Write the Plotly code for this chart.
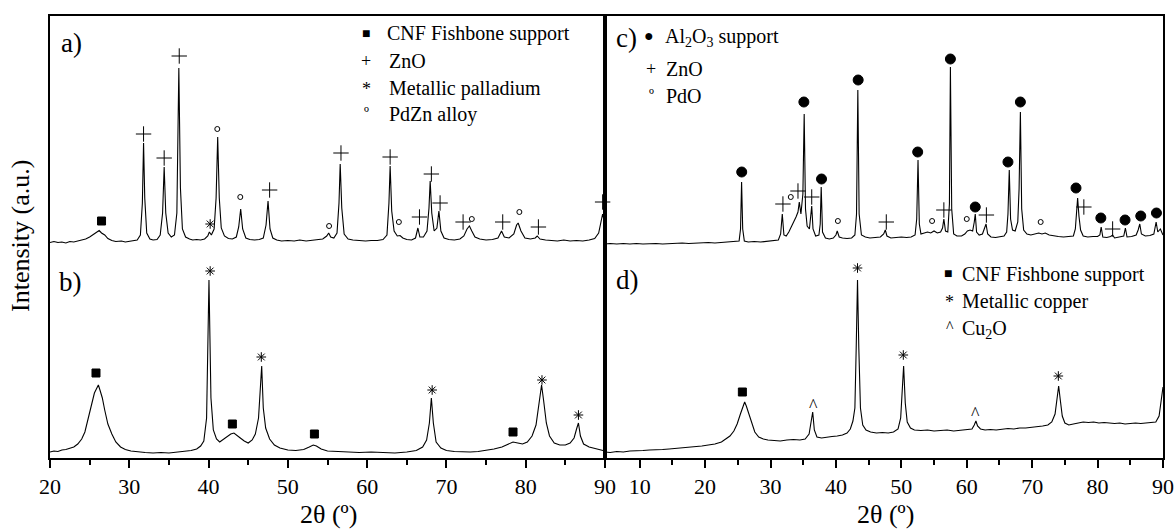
import plotly.graph_objects as go

FONT = "Liberation Serif, Times New Roman, serif"

# ---------------- data ----------------
# a) Pd/ZnO on CNF fishbone: (2theta, intensity above its own baseline, a.u.)
A_PATTERN = [
    (20.0, 0.5), (20.5, 1.5), (21.0, 0.5), (21.5, 1.0), (22.0, 0.0), (22.5, 1.5), (23.0, 1.0), (23.5, 2.0),
    (24.0, 2.5), (24.5, 4.0), (25.0, 6.0), (25.5, 8.5), (25.9, 11.0), (26.2, 12.5), (26.5, 10.0), (26.9, 8.0),
    (27.3, 4.5), (27.8, 2.5), (28.3, 1.5), (29.0, 2.0), (29.5, 1.0), (30.0, 1.5), (30.5, 2.5), (31.0, 3.0),
    (31.4, 8.0), (31.65, 40.0), (31.8, 100.0), (31.95, 45.0), (32.2, 10.0), (32.6, 4.0), (33.0, 3.0), (33.5, 3.5),
    (33.9, 8.0), (34.2, 30.0), (34.4, 76.0), (34.6, 30.0), (34.9, 10.0), (35.3, 6.0), (35.7, 8.0), (36.0, 30.0),
    (36.25, 175.0), (36.45, 55.0), (36.7, 14.0), (37.1, 6.0), (37.6, 4.0), (38.0, 3.0), (38.5, 3.5), (39.0, 3.0),
    (39.5, 4.0), (39.9, 7.0), (40.1, 11.0), (40.35, 8.0), (40.7, 14.0), (40.95, 45.0), (41.15, 106.0), (41.35, 45.0),
    (41.6, 15.0), (42.0, 7.0), (42.5, 4.5), (43.0, 4.0), (43.5, 6.0), (43.8, 16.0), (44.05, 34.0), (44.3, 14.0),
    (44.7, 5.0), (45.2, 3.5), (45.8, 3.0), (46.4, 3.5), (46.9, 5.0), (47.25, 18.0), (47.5, 42.0), (47.75, 14.0),
    (48.1, 5.0), (48.6, 3.0), (49.2, 2.0), (50.0, 2.5), (50.8, 2.0), (51.5, 3.0), (52.3, 2.0), (53.0, 2.5),
    (53.7, 3.5), (54.4, 4.0), (54.9, 7.0), (55.15, 10.0), (55.4, 6.0), (55.8, 5.0), (56.2, 10.0), (56.45, 40.0),
    (56.6, 79.0), (56.8, 35.0), (57.1, 9.0), (57.6, 4.0), (58.2, 3.0), (59.0, 2.5), (59.8, 2.0), (60.5, 2.5),
    (61.3, 2.5), (62.0, 3.5), (62.5, 8.0), (62.75, 40.0), (62.9, 77.0), (63.1, 32.0), (63.4, 12.0), (63.8, 7.0),
    (64.15, 7.5), (64.5, 5.0), (65.0, 3.5), (65.6, 3.0), (66.1, 5.0), (66.4, 15.0), (66.65, 6.0), (67.1, 6.0),
    (67.55, 12.0), (67.8, 35.0), (67.95, 62.0), (68.15, 30.0), (68.45, 12.0), (68.8, 15.0), (69.05, 32.0), (69.3, 12.0),
    (69.7, 5.0), (70.3, 3.5), (71.0, 3.0), (71.7, 4.0), (72.2, 7.0), (72.6, 14.0), (72.9, 17.0), (73.2, 12.0),
    (73.6, 6.0), (74.2, 4.0), (75.0, 3.0), (75.8, 3.5), (76.5, 5.0), (76.95, 12.0), (77.3, 6.0), (77.9, 5.0),
    (78.5, 9.0), (78.85, 18.0), (79.05, 20.0), (79.4, 12.0), (79.9, 5.0), (80.6, 4.0), (81.2, 5.0), (81.45, 7.0),
    (81.8, 4.0), (82.5, 3.0), (83.3, 2.5), (84.0, 2.0), (84.8, 3.0), (85.6, 2.0), (86.4, 2.5), (87.2, 2.0),
    (88.0, 3.0), (88.7, 4.5), (89.2, 10.0), (89.5, 22.0), (89.7, 29.0), (90.0, 18.0),
]

# b) Pd on CNF fishbone: (2theta, intensity, a.u.)
B_PATTERN = [
    (20.0, 6), (20.5, 7), (21.0, 6.5), (21.5, 8), (22.0, 8.5), (22.5, 9.5), (23.0, 11), (23.5, 14), (24.0, 19),
    (24.4, 26), (24.8, 38), (25.2, 52), (25.6, 65), (25.9, 71), (26.1, 73), (26.3, 68), (26.6, 60), (26.9, 48),
    (27.3, 34), (27.8, 24), (28.3, 16), (28.9, 11), (29.5, 8.5), (30.2, 7), (31.0, 6), (32.0, 5.5), (33.0, 5),
    (34.0, 5.5), (35.0, 5), (36.0, 6), (37.0, 6.5), (37.8, 7.5), (38.5, 9), (39.0, 12), (39.4, 17), (39.75, 40),
    (40.05, 178), (40.3, 60), (40.6, 28), (41.0, 19), (41.4, 16), (41.9, 19), (42.4, 22), (42.8, 24), (43.2, 25),
    (43.6, 22), (44.0, 20), (44.5, 17), (45.0, 15), (45.5, 18), (45.9, 24), (46.3, 40), (46.55, 75), (46.7, 92),
    (46.9, 50), (47.2, 30), (47.7, 19), (48.3, 13), (49.0, 10), (50.0, 8), (51.0, 7.5), (52.0, 8.5), (52.7, 11),
    (53.2, 13), (53.6, 12), (54.2, 9), (55.0, 7), (56.0, 6.5), (57.5, 6), (59.0, 5.5), (60.5, 6), (62.0, 5.5),
    (63.5, 5), (65.0, 6), (66.2, 7.5), (67.0, 11), (67.5, 18), (67.85, 35), (68.1, 60), (68.35, 35), (68.7, 16),
    (69.3, 10), (70.0, 7.5), (71.0, 6.5), (72.0, 6), (73.0, 6), (74.0, 6.5), (75.0, 7.5), (76.0, 9), (77.0, 11),
    (77.8, 14), (78.4, 16), (79.0, 15), (79.6, 14), (80.2, 16), (80.8, 22), (81.3, 33), (81.7, 55), (82.0, 73),
    (82.25, 58), (82.6, 35), (83.0, 22), (83.6, 15), (84.3, 13), (85.0, 13), (85.6, 15), (86.1, 20), (86.45, 30),
    (86.65, 35), (86.9, 22), (87.3, 14), (88.0, 11), (88.8, 9), (89.5, 8), (90.0, 7),
]

# c) Pd/ZnO on Al2O3: (2theta, intensity above its own baseline, a.u.)
C_PATTERN = [
    (4.7, 0), (5.5, 0.5), (6.5, 0), (7.5, 0.5), (8.5, 0), (9.5, 0.5), (10.5, 0), (11.5, 0.5), (12.5, 0.5),
    (13.5, 0), (14.5, 0.5), (15.5, 0.5), (16.5, 1), (17.5, 0.5), (18.5, 1), (19.5, 1), (20.5, 1.5), (21.5, 1),
    (22.5, 1.5), (23.5, 1.5), (24.5, 2), (25.2, 3), (25.42, 15), (25.58, 62), (25.75, 15), (26.0, 3), (26.6, 2),
    (27.5, 2.5), (28.5, 2), (29.5, 2.5), (30.5, 3), (31.2, 4), (31.55, 10), (31.8, 30), (32.05, 9), (32.4, 8),
    (32.8, 12), (33.2, 17), (33.6, 22), (33.9, 27), (34.2, 32), (34.4, 42), (34.65, 30), (34.95, 50), (35.15, 130),
    (35.35, 35), (35.6, 18), (35.95, 15), (36.15, 28), (36.3, 38), (36.5, 15), (36.9, 8), (37.4, 9), (37.6, 20),
    (37.75, 57), (37.95, 12), (38.4, 6), (39.0, 5), (39.6, 6), (40.0, 9), (40.2, 13), (40.5, 7), (41.0, 6),
    (41.7, 5.5), (42.4, 6), (42.9, 9), (43.15, 30), (43.35, 154), (43.55, 30), (43.9, 9), (44.5, 7), (45.2, 6),
    (46.0, 6.5), (46.8, 7), (47.3, 10), (47.55, 14), (47.8, 8), (48.4, 6), (49.2, 6.5), (50.0, 7), (50.8, 6.5),
    (51.5, 7), (52.1, 9), (52.35, 25), (52.55, 84), (52.75, 20), (53.0, 10), (53.5, 11), (54.0, 12), (54.5, 11),
    (55.0, 13), (55.5, 11), (56.0, 12), (56.3, 16), (56.5, 25), (56.75, 13), (57.1, 12), (57.35, 40), (57.5, 177),
    (57.7, 35), (58.0, 10), (58.5, 8), (59.2, 8), (59.7, 10), (60.1, 13), (60.5, 14), (60.9, 13), (61.15, 22),
    (61.3, 30), (61.5, 12), (61.9, 9), (62.4, 10), (62.75, 16), (62.95, 20), (63.2, 10), (63.7, 7), (64.4, 6.5),
    (65.1, 7), (65.7, 8), (66.1, 12), (66.3, 30), (66.5, 74), (66.7, 25), (67.0, 14), (67.4, 13), (67.8, 22),
    (68.0, 55), (68.2, 132), (68.4, 35), (68.7, 14), (69.2, 10), (69.8, 9), (70.4, 10), (71.0, 11), (71.5, 10),
    (72.0, 11), (72.6, 9), (73.3, 8), (74.0, 7.5), (74.8, 7), (75.6, 7.5), (76.3, 8), (76.6, 15), (76.8, 30),
    (76.95, 46), (77.15, 28), (77.4, 14), (77.8, 8), (78.5, 7), (79.3, 7.5), (80.0, 7.5), (80.35, 9), (80.55, 17),
    (80.8, 7), (81.4, 6.5), (82.0, 7.5), (82.3, 9), (82.6, 6), (83.3, 7), (84.0, 8), (84.25, 16), (84.5, 7),
    (85.2, 7.5), (85.9, 9), (86.2, 14), (86.45, 20), (86.7, 10), (87.3, 8), (88.0, 8.5), (88.6, 10), (88.95, 22),
    (89.2, 12), (89.6, 15), (90.0, 9),
]

# d) Cu on CNF fishbone: (2theta, intensity, a.u.)
D_PATTERN = [
    (4.7, 6), (5.5, 5.5), (6.5, 6.5), (7.5, 6), (8.5, 7), (9.5, 7), (10.5, 7.5), (11.5, 8), (12.5, 8), (13.5, 8.5),
    (14.5, 9), (15.5, 9.5), (16.5, 10), (17.5, 10.5), (18.5, 11.5), (19.5, 12), (20.5, 13), (21.5, 14), (22.5, 16),
    (23.2, 19), (23.8, 22), (24.4, 27), (24.9, 34), (25.4, 44), (25.8, 52), (26.05, 56), (26.3, 52), (26.7, 44),
    (27.1, 34), (27.6, 26), (28.2, 21), (28.9, 19), (29.6, 18), (30.5, 17.5), (31.5, 17), (32.5, 18), (33.5, 18.5),
    (34.5, 18), (35.3, 19), (35.9, 24), (36.2, 38), (36.45, 46), (36.7, 28), (37.1, 21), (37.8, 20), (38.6, 21),
    (39.4, 21.5), (40.2, 22), (41.0, 23), (41.7, 25), (42.2, 29), (42.6, 37), (42.9, 50), (43.1, 110), (43.3, 178),
    (43.5, 110), (43.75, 50), (44.1, 33), (44.6, 28), (45.3, 26), (46.2, 25), (47.1, 25.5), (48.0, 25), (48.8, 26),
    (49.5, 29), (49.9, 40), (50.15, 70), (50.35, 92), (50.6, 55), (50.9, 36), (51.4, 30), (52.0, 28), (53.0, 27.5),
    (54.0, 28), (55.0, 27), (56.0, 27.5), (57.0, 28), (58.0, 27), (59.0, 27.5), (60.0, 28), (60.8, 29), (61.15, 33),
    (61.4, 37), (61.65, 32), (62.1, 29), (62.8, 28), (63.6, 28.5), (64.5, 28), (65.4, 29), (66.3, 29.5), (67.2, 29),
    (68.1, 30), (69.0, 30), (69.9, 30.5), (70.8, 31), (71.6, 32), (72.4, 33), (73.0, 36), (73.5, 44), (73.85, 62),
    (74.05, 72), (74.3, 58), (74.6, 42), (75.0, 35), (75.6, 33), (76.3, 34), (77.0, 35), (77.8, 36), (78.6, 35.5),
    (79.4, 36), (80.2, 35), (81.0, 35.5), (81.8, 35), (82.6, 34.5), (83.4, 35), (84.2, 34), (85.0, 34.5), (85.8, 35),
    (86.6, 34.5), (87.4, 35), (88.2, 35), (88.9, 36), (89.4, 42), (89.75, 58), (90.0, 71),
]

# phase labels: (2theta, label height in the same a.u. as the pattern)
A_CNF = [(26.5, 22)]
A_ZNO = [(31.8, 109), (34.4, 85), (36.3, 187), (47.7, 53), (56.7, 90), (62.9, 86), (66.6, 26), (68.1, 69),
         (69.2, 40), (72.1, 21), (77.1, 21), (81.6, 16), (89.7, 41)]
A_PD = [(40.2, 19)]
A_PDZN = [(41.1, 114), (44.0, 46), (55.2, 17), (64.0, 21), (73.2, 24), (79.2, 31)]

B_CNF = [(25.8, 85), (43.0, 34), (53.35, 24), (78.4, 26)]
B_PD = [(40.2, 187), (46.65, 101), (68.2, 68), (82.05, 78), (86.65, 43)]

C_AL2O3 = [(25.6, 72), (35.1, 142), (37.8, 65), (43.4, 164), (52.5, 92), (57.5, 185), (61.3, 37), (66.3, 82),
           (68.2, 142), (76.7, 56), (80.5, 26), (84.2, 24), (86.6, 28), (89.0, 31)]
C_ZNO = [(31.9, 40), (34.2, 53), (36.3, 47), (47.7, 22), (56.5, 34), (63.0, 29), (77.9, 37), (82.3, 15)]
C_PDO = [(33.1, 47), (40.3, 23), (54.7, 23), (60.0, 25), (71.3, 22)]

D_CNF = [(25.7, 66)]
D_CU = [(43.3, 190), (50.3, 103), (74.0, 82)]
D_CU2O = [(36.5, 56), (61.4, 48)]

TOP_OFFSET_A = 215   # vertical shift applied to pattern a)
TOP_OFFSET_C = 214   # vertical shift applied to pattern c)

# ---------------- figure ----------------
W, H = 1175, 529
X1 = [50 / W, 605 / W]
X2 = [605 / W, 1163 / W]
YD = [(H - 458) / H, (H - 16) / H]
INK = "#000000"

fig = go.Figure()


def add_pattern(pts, xa, ya, offset=0):
    fig.add_trace(go.Scatter(
        x=[p[0] for p in pts], y=[p[1] + offset for p in pts], mode="lines",
        line=dict(color=INK, width=1.1), xaxis=xa, yaxis=ya,
        showlegend=False, hoverinfo="skip"))


def add_marks(pts, xa, ya, symbol, size, offset=0, lw=1):
    fig.add_trace(go.Scatter(
        x=[p[0] for p in pts], y=[p[1] + offset for p in pts], mode="markers",
        marker=dict(symbol=symbol, size=size, color=INK, line=dict(color=INK, width=lw)),
        xaxis=xa, yaxis=ya, showlegend=False, hoverinfo="skip", cliponaxis=False))


add_pattern(A_PATTERN, "x", "y", TOP_OFFSET_A)
add_pattern(B_PATTERN, "x", "y")
add_pattern(C_PATTERN, "x2", "y2", TOP_OFFSET_C)
add_pattern(D_PATTERN, "x2", "y2")

add_marks(A_CNF, "x", "y", "square", 8, TOP_OFFSET_A)
add_marks(A_ZNO, "x", "y", "cross-thin", 11, TOP_OFFSET_A)
add_marks(A_PD, "x", "y", "asterisk-open", 8, TOP_OFFSET_A)
add_marks(A_PDZN, "x", "y", "circle-open", 5, TOP_OFFSET_A)

add_marks(B_CNF, "x", "y", "square", 8)
add_marks(B_PD, "x", "y", "asterisk-open", 8)

add_marks(C_AL2O3, "x2", "y2", "circle", 10, TOP_OFFSET_C)
add_marks(C_ZNO, "x2", "y2", "cross-thin", 11, TOP_OFFSET_C)
add_marks(C_PDO, "x2", "y2", "circle-open", 5, TOP_OFFSET_C)

add_marks(D_CNF, "x2", "y2", "square", 8)
add_marks(D_CU, "x2", "y2", "asterisk-open", 8)

annotations = []
for xv, yv in D_CU2O:
    annotations.append(dict(x=xv, y=yv, xref="x2", yref="y2", text="^", showarrow=False,
                            font=dict(family=FONT, size=18, color=INK), yshift=-4))

axis_common = dict(showline=True, linecolor=INK, linewidth=1.5, mirror=True,
                   showgrid=False, zeroline=False, automargin=False)
xcommon = dict(axis_common, ticks="outside", ticklen=8, tickwidth=1.5, tickcolor=INK,
               ticklabeloverflow="allow",
               tickfont=dict(family=FONT, size=22, color=INK))

fig.update_layout(
    width=W, height=H, margin=dict(l=0, r=0, t=0, b=0, autoexpand=False), autosize=False,
    paper_bgcolor="white", plot_bgcolor="white",
    xaxis=dict(xcommon, domain=X1, range=[20, 90], tickmode="array",
               tickvals=[20, 30, 40, 50, 60, 70, 80, 90], anchor="y",
               minor=dict(tickmode="array", tickvals=[25, 35, 45, 55, 65, 75, 85], ticks="outside",
                          ticklen=5, tickwidth=1.5, tickcolor=INK, showgrid=False)),
    yaxis=dict(axis_common, domain=YD, range=[0, 442], showticklabels=False, ticks="", anchor="x"),
    xaxis2=dict(xcommon, domain=X2, range=[4.7, 90], tickmode="array",
                tickvals=[10, 20, 30, 40, 50, 60, 70, 80, 90], anchor="y2",
                minor=dict(tickmode="array", tickvals=[15, 25, 35, 45, 55, 65, 75, 85], ticks="outside",
                           ticklen=5, tickwidth=1.5, tickcolor=INK, showgrid=False)),
    yaxis2=dict(axis_common, domain=YD, range=[0, 442], showticklabels=False, ticks="", anchor="x2"),
)


def P(px, py):
    return px / W, 1 - py / H


def txt(px, py, text, size, xanchor="center", angle=0):
    x, y = P(px, py)
    annotations.append(dict(x=x, y=y, xref="paper", yref="paper", text=text, showarrow=False,
                            xanchor=xanchor, yanchor="middle", textangle=angle,
                            font=dict(family=FONT, size=size, color=INK)))


# axis titles
txt(328, 514, "2θ (º)", 26)
txt(885, 514, "2θ (º)", 26)
txt(20, 236, "Intensity (a.u.)", 26, angle=-90)

# panel labels
txt(71, 43, "a)", 27)
txt(70, 282, "b)", 27)
txt(626, 38, "c)", 27)
txt(627, 280, "d)", 27)

# legend a)
LEG = 20
txt(366, 33, "■", 14)
txt(385, 33, "CNF Fishbone support", LEG, "left")
txt(366, 61, "+", 18)
txt(387, 61, "ZnO", LEG, "left")
txt(366, 89, "*", 18)
txt(387, 88, "Metallic palladium", LEG, "left")
txt(366, 112, "º", 16)
txt(387, 115, "PdZn alloy", LEG, "left")

# legend c)
txt(649, 36, "●", 16)
txt(663, 37, "Al<sub>2</sub>O<sub>3</sub> support", LEG, "left")
txt(651, 69, "+", 18)
txt(664, 69, "ZnO", LEG, "left")
txt(651, 94, "º", 16)
txt(664, 96, "PdO", LEG, "left")

# legend d)
txt(948, 273, "■", 14)
txt(960, 274, "CNF Fishbone support", LEG, "left")
txt(949, 302, "*", 18)
txt(960, 301, "Metallic copper", LEG, "left")
txt(950, 326, "^", 16)
txt(960, 329, "Cu<sub>2</sub>O", LEG, "left")

fig.update_layout(annotations=annotations)

fig.write_html("out.html")
